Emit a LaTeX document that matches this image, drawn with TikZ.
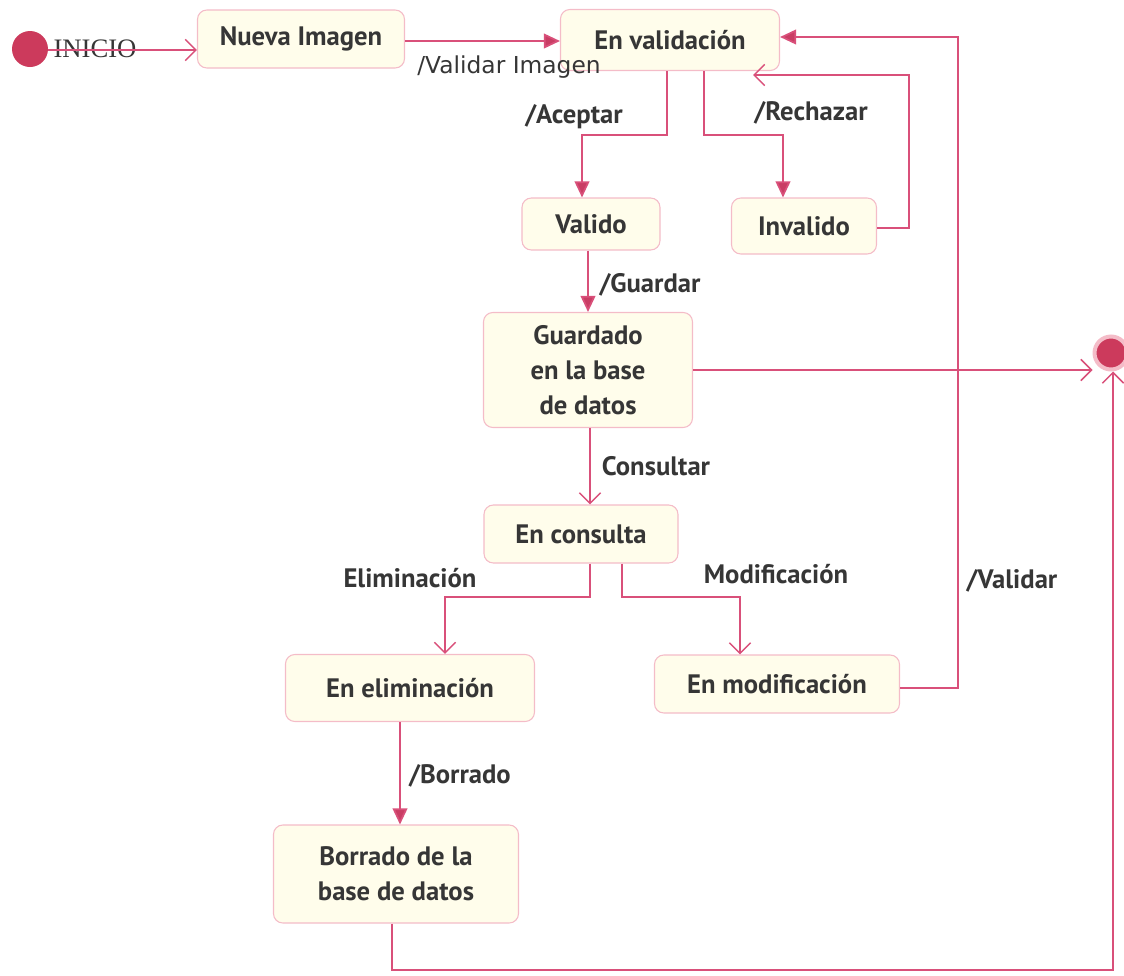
\documentclass[tikz,border=0pt]{standalone}
\usepackage{fontspec}
\setmainfont{PT Sans}
\newfontfamily\verdanaish{DejaVu Sans}
\newfontfamily\serifish{Liberation Serif}
\usetikzlibrary{arrows.meta}
\definecolor{lnc}{HTML}{D9507A}
\definecolor{arc}{HTML}{C93D64}
\definecolor{dotc}{HTML}{CC3A5C}
\definecolor{boxfill}{HTML}{FFFDEB}
\definecolor{boxline}{HTML}{F4BCC8}
\definecolor{txt}{HTML}{363636}
\tikzset{
  state/.style={draw=boxline, line width=0.8pt, fill=boxfill, rounded corners=7pt,
    font=\fontsize{20}{26.5}\selectfont\bfseries, text=txt, align=center, inner sep=0pt},
  conn/.style={draw=lnc, line width=1.3pt},
  filled/.style={conn, -{Triangle[length=12pt,width=11pt,fill=arc]}},
  open/.style={conn, -{Straight Barb[length=8pt,width=16pt,line width=1.1pt]}},
  lbl/.style={font=\fontsize{20}{24}\selectfont\bfseries, text=txt, inner sep=0pt},
}
\begin{document}
\begin{tikzpicture}[x=0.75pt,y=-0.75pt]
\useasboundingbox (0,0) rectangle (1124,975);
% nodes
\node[state, minimum width=207*0.75pt, minimum height=58*0.75pt] (nueva) at (301,39) {Nueva Imagen};
\node[state, minimum width=219*0.75pt, minimum height=61*0.75pt] (enval) at (670,40) {En validación};
\node[state, minimum width=138*0.75pt, minimum height=52*0.75pt] (valido) at (591,224) {Valido};
\node[state, minimum width=145*0.75pt, minimum height=56*0.75pt] (invalido) at (804,226) {Invalido};
\node[state, minimum width=209*0.75pt, minimum height=115*0.75pt] (guardado) at (588,370) {Guardado\\en la base\\de datos};
\node[state, minimum width=194*0.75pt, minimum height=58*0.75pt] (consulta) at (581,534) {En consulta};
\node[state, minimum width=249*0.75pt, minimum height=67*0.75pt] (elim) at (410,688) {En eliminación};
\node[state, minimum width=245*0.75pt, minimum height=58*0.75pt] (modif) at (777,684) {En modificación};
\node[state, minimum width=245*0.75pt, minimum height=98*0.75pt] (borrado) at (396,874) {Borrado de la\\base de datos};
\node[circle, fill=dotc, minimum size=36*0.75pt, inner sep=0pt] (init) at (30,49) {};
\node[circle, fill=dotc, draw=boxline, line width=3pt, minimum size=33*0.75pt, inner sep=0pt] (final) at (1111,353) {};
% initial transition
\draw[open] (init.east |- 0,50) -- (nueva.west |- 0,50);
\node[font=\fontsize{20}{24}\selectfont\serifish, text=txt, inner sep=0pt] (inicio) at (95,49) {INICIO};
\draw[conn] (inicio.west |- 0,50) -- (inicio.east |- 0,50);
% transitions
\draw[filled] (nueva.east |- 0,41) -- (enval.west |- 0,41);
\draw[filled] (enval.south -| 667,0) -- (667,135) -- (582,135) -- (valido.north -| 582,0);
\draw[filled] (enval.south -| 704,0) -- (704,135) -- (783,135) -- (invalido.north -| 783,0);
\draw[open] (invalido.east |- 0,228) -- (909,228) -- (909,75) -- (753,75);
\draw[filled] (valido.south -| 588,0) -- (guardado.north -| 588,0);
\draw[filled] (modif.east |- 0,688) -- (958,688) -- (958,37) -- (enval.east |- 0,37);
\draw[open] (guardado.east |- 0,370) -- (final.west |- 0,370);
\draw[open] (guardado.south -| 590,0) -- (consulta.north -| 590,0);
\draw[open] (consulta.south -| 590,0) -- (590,597) -- (445,597) -- (elim.north -| 445,0);
\draw[open] (consulta.south -| 622,0) -- (622,597) -- (740,597) -- (modif.north -| 740,0);
\draw[filled] (elim.south -| 400,0) -- (borrado.north -| 400,0);
\draw[open] (borrado.south -| 392,0) -- (392,970) -- (1113,970) -- (final.south -| 1113,0);
% labels
\node[font=\fontsize{17.5}{20}\selectfont\verdanaish, text=txt, inner sep=0pt] (lvi) at (509,67) {/Validar Imagen};
\node[lbl] (lac) at (574,117) {/Aceptar};
\node[lbl] (lre) at (811,113) {/Rechazar};
\node[lbl] (lgu) at (650,285) {/Guardar};
\node[lbl] (lco) at (656,466) {Consultar};
\node[lbl] (lel) at (410,578) {Eliminación};
\node[lbl] (lmo) at (776,574) {Modificación};
\node[lbl] (lva) at (1012,581) {/Validar};
\node[lbl] (lbo) at (460,776) {/Borrado};
\end{tikzpicture}
\end{document}
